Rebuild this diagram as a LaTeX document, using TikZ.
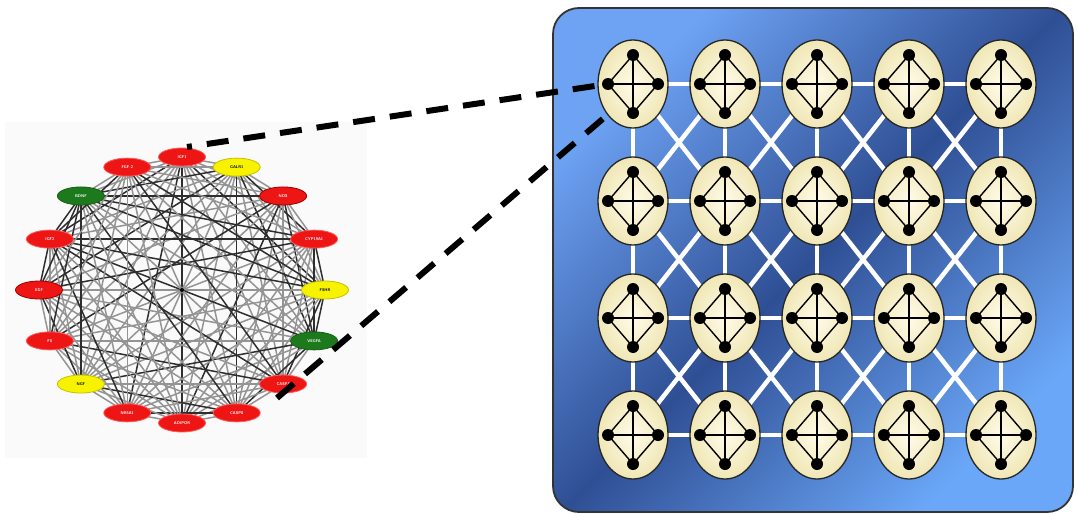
\documentclass[tikz,border=0pt]{standalone}
\usetikzlibrary{calc,shapes.geometric}
\definecolor{gnred}{HTML}{EE1515}
\definecolor{gnredline}{HTML}{FF5A5A}
\definecolor{gnreddark}{HTML}{A00000}
\definecolor{gngreen}{HTML}{1C7A1C}
\definecolor{gnyellow}{HTML}{F6F200}
\definecolor{gnyellowline}{HTML}{C8C000}
\definecolor{panelA}{HTML}{6EA3F4}
\definecolor{panelB}{HTML}{2F4F94}
\definecolor{panelC}{HTML}{6BA7F8}
\definecolor{cellin}{HTML}{FFFBE8}
\definecolor{cellout}{HTML}{F0E7B6}
\begin{document}
\begin{tikzpicture}[x=1pt,y=-1pt,
  gene/.style={ellipse,minimum width=47pt,minimum height=18pt,inner sep=0pt,
    line width=0.8pt,font=\sffamily\bfseries\fontsize{4}{4}\selectfont},
  redgene/.style={gene,fill=gnred,draw=gnredline,text=white},
  reddark/.style={gene,fill=gnred,draw=gnreddark,text=white},
  greengene/.style={gene,fill=gngreen,draw=gngreen!80!black,text=white},
  yellowgene/.style={gene,fill=gnyellow,draw=gnyellowline,text=black},
  edgelight/.style={draw=black!42,line width=1.5pt},
  edgedark/.style={draw=black!82,line width=1.5pt},
  link/.style={draw=white,line width=4.5pt},
  cell/.style={ellipse,minimum width=70pt,minimum height=88pt,inner sep=0pt,
    inner color=cellin,outer color=cellout,draw=black!85,line width=1.3pt},
  dot/.style={circle,fill=black,inner sep=0pt,minimum size=12pt},
  wire/.style={draw=black,line width=1.4pt},
  zoomline/.style={draw=black,line width=6pt,dash pattern=on 22pt off 15pt}
]
\useasboundingbox (0,0) rectangle (1077,514);

% ---------- gene network ----------
\fill[black!2] (5,122) rectangle (367,458);

\foreach \i in {0,...,15}{
  \pgfmathsetmacro\a{90-22.5*\i}
  \coordinate (p\i) at ({182+143*cos(\a)},{290-133*sin(\a)});
}
\coordinate (hub) at (182,290);

\foreach \i in {0,...,14}{
  \pgfmathtruncatemacro\s{\i+1}
  \foreach \j in {\s,...,15}{
    \pgfmathtruncatemacro\k{mod(\i*\i*5+\j*\j*3+\i*\j*11+\i+2*\j,9)}
    \ifnum\k<3
      \draw[edgedark] (p\i) -- (p\j);
    \else
      \draw[edgelight] (p\i) -- (p\j);
    \fi
  }
}
\fill[black] (hub) circle (2pt);

\node[redgene]    (n0)  at (p0)  {IGF1};
\node[yellowgene] (n1)  at (p1)  {GALR1};
\node[reddark]    (n2)  at (p2)  {NOS};
\node[redgene]    (n3)  at (p3)  {CYP19A1};
\node[yellowgene] (n4)  at (p4)  {FSHR};
\node[greengene]  (n5)  at (p5)  {VEGFA};
\node[redgene]    (n6)  at (p6)  {CASP3};
\node[redgene]    (n7)  at (p7)  {CASP8};
\node[redgene]    (n8)  at (p8)  {ADIPOR};
\node[redgene]    (n9)  at (p9)  {NR5A1};
\node[yellowgene] (n10) at (p10) {NGF};
\node[redgene]    (n11) at (p11) {FS};
\node[reddark]    (n12) at (p12) {EGF};
\node[redgene]    (n13) at (p13) {IGF2};
\node[greengene]  (n14) at (p14) {BDNF};
\node[redgene]    (n15) at (p15) {FGF-2};

% ---------- lattice of modules ----------
\draw[draw=black!80,line width=1.8pt,rounded corners=26pt,
  top color=panelA,bottom color=panelC,middle color=panelB,shading angle=45]
  (553,8) rectangle (1073,512);

\foreach \c in {0,...,4}{
  \foreach \r in {0,...,3}{
    \coordinate (g\c\r) at ({633+92*\c},{84+117*\r});
  }
}
% horizontal and vertical links
\foreach \c [evaluate=\c as \cn using int(\c+1)] in {0,...,3}{
  \foreach \r in {0,...,3}{ \draw[link] (g\c\r) -- (g\cn\r); }
}
\foreach \c in {0,...,4}{
  \foreach \r [evaluate=\r as \rn using int(\r+1)] in {0,...,2}{ \draw[link] (g\c\r) -- (g\c\rn); }
}
% diagonal links
\foreach \c [evaluate=\c as \cn using int(\c+1)] in {0,...,3}{
  \foreach \r [evaluate=\r as \rn using int(\r+1)] in {0,...,2}{
    \draw[link] (g\c\r) -- (g\cn\rn);
    \draw[link] (g\cn\r) -- (g\c\rn);
  }
}
% each module: a four-node complete graph
\foreach \c in {0,...,4}{
  \foreach \r in {0,...,3}{
    \node[cell] (e\c\r) at (g\c\r) {};
    \node[dot] (e\c\r t) at ($(g\c\r)+(0,-29)$) {};
    \node[dot] (e\c\r b) at ($(g\c\r)+(0,29)$) {};
    \node[dot] (e\c\r l) at ($(g\c\r)+(-25,0)$) {};
    \node[dot] (e\c\r r) at ($(g\c\r)+(25,0)$) {};
    \draw[wire] (e\c\r t.center) -- (e\c\r l.center) -- (e\c\r b.center)
      -- (e\c\r r.center) -- cycle;
    \draw[wire] (e\c\r t.center) -- (e\c\r b.center);
    \draw[wire] (e\c\r l.center) -- (e\c\r r.center);
  }
}

% ---------- zoom lines ----------
\coordinate (s1) at (187,147);
\coordinate (s2) at (277,398);
\coordinate (q2) at (612,111);
\draw[zoomline,dash phase=17pt] (s1) -- (e00l.center);
\draw[zoomline] (s2) -- (q2);
\end{tikzpicture}
\end{document}
